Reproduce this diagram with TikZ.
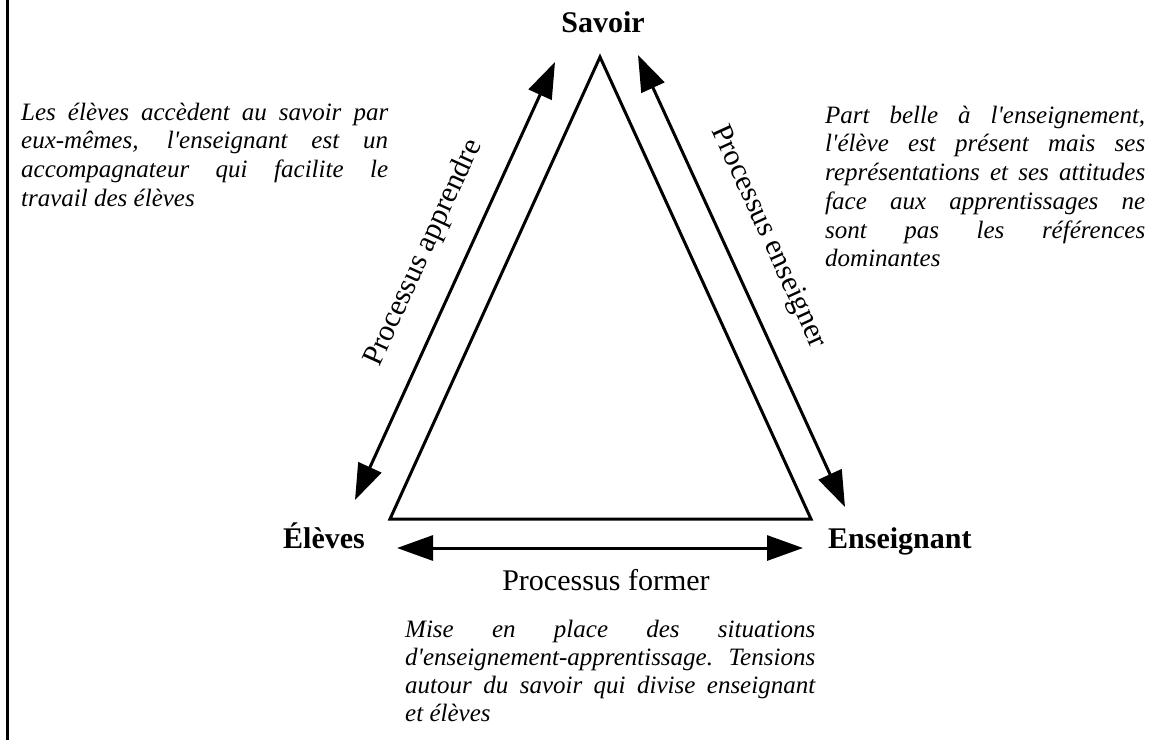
\documentclass[tikz,border=0pt]{standalone}
\usepackage{fontspec}
\newfontfamily\tnr{Liberation Serif}
\usetikzlibrary{arrows.meta}
\newcommand{\justifyit}{\leftskip=0pt\relax\rightskip=0pt\relax\spaceskip=0pt\relax\xspaceskip=0pt\relax\parfillskip=0pt plus 1fil\relax\tolerance=10000\relax\hyphenpenalty=10000\relax\exhyphenpenalty=10000\relax\vrule width 0pt height 24pt depth 0pt\relax}
\begin{document}
\begin{tikzpicture}[x=1pt,y=-1pt,font=\tnr,
  side/.style={line width=3pt,line join=miter},
  dblarrow/.style={line width=3pt,{Triangle[length=36pt,width=25pt]}-{Triangle[length=36pt,width=25pt]}},
  vertex/.style={font=\tnr\fontsize{30}{36}\selectfont\bfseries,inner sep=0pt},
  proc/.style={font=\tnr\fontsize{30}{36}\selectfont,inner sep=0pt},
  note/.style={font=\tnr\itshape\fontsize{25}{28.7}\selectfont,
    inner sep=0pt,anchor=north west}]
\useasboundingbox (0,0) rectangle (1167,740);
% left border
\coordinate (bt) at (7,0);
\coordinate (bb) at (7,740);
\draw[line width=3pt] (bt) -- (bb);
% triangle
\coordinate (A) at (600,57);
\coordinate (B) at (390,519);
\coordinate (C) at (811,519);
\draw[side] (A) -- (B) -- (C) -- cycle;
% arrows
\coordinate (la1) at (555,62);
\coordinate (la2) at (355,500);
\coordinate (ra1) at (638,55);
\coordinate (ra2) at (845,507);
\coordinate (ba1) at (397,548);
\coordinate (ba2) at (803,548);
\draw[dblarrow] (la1) -- (la2);
\draw[dblarrow] (ra1) -- (ra2);
\draw[dblarrow] (ba1) -- (ba2);
% vertex labels
\node[vertex,anchor=base] (savoir) at (603,32) {Savoir};
\node[vertex,anchor=base] (eleves) at (324,548) {Élèves};
\node[vertex,anchor=base west] (ens) at (828,548) {Enseignant};
% process labels
\node[proc,anchor=base] (former) at (606,590) {Processus former};
\node[proc,rotate=65.46] (apprendre) at (424,253) {Processus apprendre};
\node[proc,rotate=-65.46] (enseigner) at (768,237) {Processus enseigner};
% notes
\node[note,text width=367pt] (n1) at (21,96) {\justifyit Les élèves accèdent au savoir par\linebreak eux-mêmes, l'enseignant est un\linebreak accompagnateur qui facilite le\linebreak travail des élèves\par};
\node[note,text width=320pt] (n2) at (825,99) {\justifyit Part belle à l'enseignement,\linebreak l'élève est présent mais ses\linebreak représentations et ses attitudes\linebreak face aux apprentissages ne\linebreak sont pas les références\linebreak dominantes\par};
\node[note,text width=410pt,font=\tnr\itshape\fontsize{25}{28}\selectfont] (n3) at (405,613) {\justifyit Mise en place des situations\linebreak d'enseignement-apprentissage. Tensions\linebreak autour du savoir qui divise enseignant\linebreak et élèves\par};
\end{tikzpicture}
\end{document}
